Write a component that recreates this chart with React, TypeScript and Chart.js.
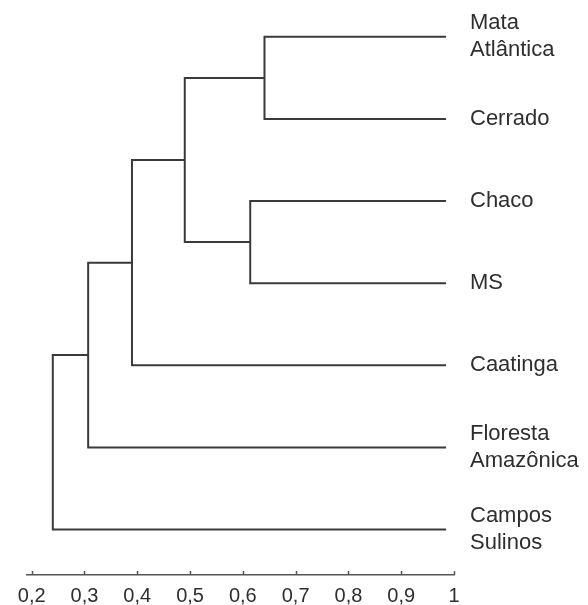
import React, { useEffect, useRef } from "react";
import { Chart, registerables } from "chart.js";

Chart.register(...registerables);

// Leaves, top to bottom
const leafLabels: string[][] = [
  ["Mata", "Atlântica"],
  ["Cerrado"],
  ["Chaco"],
  ["MS"],
  ["Caatinga"],
  ["Floresta", "Amazônica"],
  ["Campos", "Sulinos"],
];
// similarity value at which leaf branches end
const leafTip = 0.985;
// merges: node ids 0-6 are leaves, merge k creates node 7+k
const mergeLeft = [0, 2, 7, 9, 10, 11];
const mergeRight = [1, 3, 8, 4, 5, 6];
const mergeHeight = [0.641, 0.614, 0.49, 0.39, 0.307, 0.24];
// x axis
const tickValues = [0.2, 0.3, 0.4, 0.5, 0.6, 0.7, 0.8, 0.9, 1];
const tickLabels = ["0,2", "0,3", "0,4", "0,5", "0,6", "0,7", "0,8", "0,9", "1"];

const LINE = "#3a3a3a";
const TEXT = "#2e2e2e";

function buildSegments() {
  const nodeX: number[] = leafLabels.map(() => leafTip);
  const nodeY: number[] = leafLabels.map((_, i) => i);
  const segs: { x: number; y: number }[][] = [];
  mergeHeight.forEach((h, k) => {
    const a = mergeLeft[k];
    const b = mergeRight[k];
    segs.push([
      { x: nodeX[a], y: nodeY[a] },
      { x: h, y: nodeY[a] },
      { x: h, y: nodeY[b] },
      { x: nodeX[b], y: nodeY[b] },
    ]);
    nodeX.push(h);
    nodeY.push((nodeY[a] + nodeY[b]) / 2);
  });
  return segs;
}

export default function App() {
  const ref = useRef<HTMLCanvasElement | null>(null);

  useEffect(() => {
    if (!ref.current) return;
    const segs = buildSegments();

    const leafLabelPlugin = {
      id: "leafLabels",
      afterDraw(chart: any) {
        const { ctx, chartArea, scales } = chart;
        const ys = scales.y;
        ctx.save();
        ctx.font = '22px "Liberation Sans", Arial, sans-serif';
        ctx.fillStyle = TEXT;
        ctx.textAlign = "left";
        ctx.textBaseline = "middle";
        const lh = 27;
        leafLabels.forEach((lines, i) => {
          const cy = ys.getPixelForValue(i);
          const y0 = cy - ((lines.length - 1) * lh) / 2;
          lines.forEach((t, j) => {
            ctx.fillText(t, chartArea.right + 16, y0 + j * lh);
          });
        });
        ctx.restore();
      },
    };

    const tickMarkPlugin = {
      id: "tickMarks",
      afterDraw(chart: any) {
        const { ctx, chartArea, scales } = chart;
        const xs = scales.x;
        ctx.save();
        ctx.strokeStyle = "#555555";
        ctx.lineWidth = 1.5;
        tickValues.forEach((v) => {
          const px = Math.round(xs.getPixelForValue(v)) + 0.5;
          ctx.beginPath();
          ctx.moveTo(px, chartArea.bottom);
          ctx.lineTo(px, chartArea.bottom - 4);
          ctx.stroke();
        });
        ctx.restore();
      },
    };

    const chart = new Chart(ref.current, {
      type: "scatter",
      data: {
        datasets: segs.map((s) => ({
          data: s,
          showLine: true,
          borderColor: LINE,
          borderWidth: 2,
          pointRadius: 0,
          pointHoverRadius: 0,
          tension: 0,
          fill: false,
          clip: false as any,
        })),
      },
      options: {
        animation: false,
        responsive: false,
        devicePixelRatio: 1,
        layout: { padding: { left: 26.4, right: 134, top: 4, bottom: -12 } },
        plugins: { legend: { display: false }, tooltip: { enabled: false } },
        scales: {
          x: {
            type: "linear",
            min: 0.19,
            max: 1,
            afterBuildTicks: (scale: any) => {
              scale.ticks = tickValues.map((v) => ({ value: v }));
            },
            grid: { display: false, drawTicks: false },
            border: { display: true, color: "#555555", width: 1.5 },
            ticks: {
              autoSkip: false,
              maxRotation: 0,
              padding: 10,
              color: TEXT,
              font: { family: '"Liberation Sans", Arial, sans-serif', size: 20, lineHeight: 1.1 },
              callback: (v: any) => {
                const i = tickValues.findIndex((t) => Math.abs(t - Number(v)) < 1e-9);
                return i >= 0 ? tickLabels[i] : "";
              },
            },
          },
          y: {
            type: "linear",
            display: false,
            reverse: true,
            min: -0.4,
            max: 6.554,
          },
        },
      },
      plugins: [leafLabelPlugin, tickMarkPlugin],
    });
    return () => chart.destroy();
  }, []);

  return (
    <div style={{ position: "fixed", left: 0, top: 0, width: 588, height: 605, background: "#fff" }}>
      <canvas ref={ref} width={588} height={605} style={{ display: "block", width: 588, height: 605 }} />
    </div>
  );
}
